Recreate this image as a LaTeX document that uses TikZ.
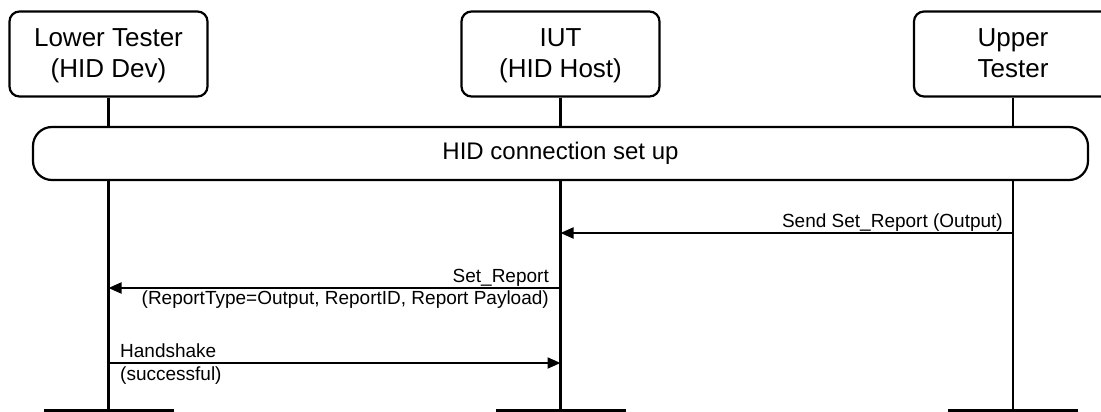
\documentclass[tikz,border=0pt]{standalone}
\usepackage{fontspec}
\setmainfont{Liberation Sans}
\usetikzlibrary{arrows.meta}
\newcommand{\topstrut}{\rule{0pt}{22pt}}
\newcommand{\botstrut}{\rule[-5.5pt]{0pt}{5.5pt}}
\tikzset{
  actor/.style={draw, line width=2.2pt, rounded corners=10pt, fill=white,
    minimum width=198pt, minimum height=85pt, align=center, inner sep=0pt,
    font=\fontsize{26}{31}\selectfont},
  connbar/.style={draw, line width=2.2pt, rounded corners=19pt, fill=white,
    minimum width=1055pt, minimum height=53pt, inner sep=0pt,
    font=\fontsize{24}{28}\selectfont},
  endbar/.style={fill=black, minimum width=130pt, minimum height=5pt, inner sep=0pt, outer sep=0pt},
  life/.style={line width=2.2pt},
  msg/.style={line width=2pt, -{Triangle[length=13pt,width=11pt]}},
  lbl/.style={inner sep=0pt, font=\fontsize{19}{23}\selectfont}
}
\begin{document}
\begin{tikzpicture}[x=1pt,y=-1pt]
\useasboundingbox (0,0) rectangle (1101,412);
% actors
\node[actor] (lt) at (108.5,54) {\topstrut Lower Tester\\(HID Dev)\botstrut};
\node[actor] (iut) at (560.5,54) {\topstrut IUT\\(HID Host)\botstrut};
\node[actor] (ut) at (1013,54) {\topstrut Upper\\Tester\botstrut};
% end bars
\node[endbar] (ltbar) at (108.5,411.5) {};
\node[endbar] (iutbar) at (560.5,411.5) {};
\node[endbar] (utbar) at (1013,411.5) {};
% lifelines
\draw[life] (lt.south) -- (ltbar.north);
\draw[life] (iut.south) -- (iutbar.north);
\draw[life] (ut.south) -- (utbar.north);
% connection set up
\node[connbar] (conn) at (560.5,153.5) {HID connection set up};
% message points
\coordinate (ut1) at (1013,233);
\coordinate (iut1) at (560.5,233);
\coordinate (iut2) at (560.5,288);
\coordinate (lt2) at (108.5,288);
\coordinate (lt3) at (108.5,363);
\coordinate (iut3) at (560.5,363);
% messages
\draw[msg] (ut1) -- (iut1);
\node[lbl, anchor=base east] (m1) at (1003,227) {Send Set\_Report (Output)};
\draw[msg] (iut2) -- (lt2);
\node[lbl, anchor=base east] (m2a) at (549,282) {Set\_Report};
\node[lbl, anchor=base east] (m2b) at (549,304) {(ReportType=Output, ReportID, Report Payload)};
\draw[msg] (lt3) -- (iut3);
\node[lbl, anchor=base west] (m3a) at (120,357) {Handshake};
\node[lbl, anchor=base west] (m3b) at (120,380) {(successful)};
\end{tikzpicture}
\end{document}
